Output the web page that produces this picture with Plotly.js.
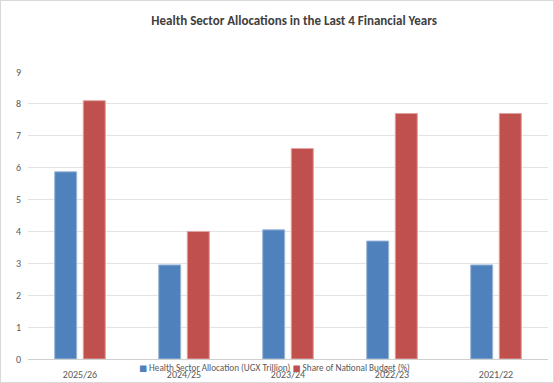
<!DOCTYPE html>
<html><head><meta charset="utf-8">
<script src="https://cdn.plot.ly/plotly-3.0.1.min.js"></script>
<style>
html,body{margin:0;padding:0;background:#fff;}
#wrap{width:552px;height:381px;border:1px solid #d9d9d9;}
#chart{width:552px;height:381px;}
</style></head>
<body><div id="wrap"><div id="chart"></div></div>
<script>
const years = ["2025/26", "2024/25", "2023/24", "2022/23", "2021/22"];
const allocation = [5.87, 2.95, 4.05, 3.7, 2.95];
const shareOfBudget = [8.1, 4.0, 6.6, 7.7, 7.7];
const seriesNames = ["Health Sector Allocation (UGX Trillion)", "Share of National Budget (%)"];
const seriesColors = ["#4F81BD", "#C0504D"];
const yTicks = [0,1,2,3,4,5,6,7,8,9];

const font = "Calibri, Carlito, 'Liberation Sans', sans-serif";
const data = [
  {type:'bar', x: years, y: allocation, name: seriesNames[0],
   marker:{color:seriesColors[0], line:{color:'#9DB8DB', width:1}}},
  {type:'bar', x: years, y: shareOfBudget, name: seriesNames[1],
   marker:{color:seriesColors[1], line:{color:'#E0A3A1', width:1}}}
];
const legendText = seriesNames.map((n,i) =>
  '<span style="color:' + seriesColors[i] + ';font-family:DejaVu Sans;font-size:8.5px">■</span> ' + n).join(' ');
const layout = {
  width:552, height:381,
  margin:{l:27, r:5, t:71, b:23},
  paper_bgcolor:'#fff', plot_bgcolor:'#fff',
  font:{family:font, color:'#595959', size:10},
  title:{text:'<b>Health Sector Allocations in the Last 4 Financial Years</b>',
    font:{family:font, size:13, color:'#404040'}, x:0.531, xanchor:'center', y:0.95, yanchor:'middle'},
  barmode:'group', bargap:0.45, bargroupgap:0.23,
  xaxis:{type:'category', showgrid:false, showline:false, ticks:'', tickfont:{size:10, color:'#595959'}, ticklabelstandoff:8},
  yaxis:{range:[0,9], tickvals:yTicks, showgrid:true, gridcolor:'#e3e3e3', gridwidth:1,
    zeroline:true, zerolinecolor:'#d0d0d0', zerolinewidth:1, showline:false, ticks:'',
    tickfont:{size:10, color:'#595959'}, ticklabelstandoff:6},
  showlegend:false,
  annotations:[{text: legendText, xref:'paper', yref:'paper', x:0.474, y:-0.028, xanchor:'center', yanchor:'middle',
    showarrow:false, font:{size:9.2, color:'#595959', family:font}}]
};
Plotly.newPlot('chart', data, layout, {displayModeBar:false, staticPlot:true});
</script></body></html>
